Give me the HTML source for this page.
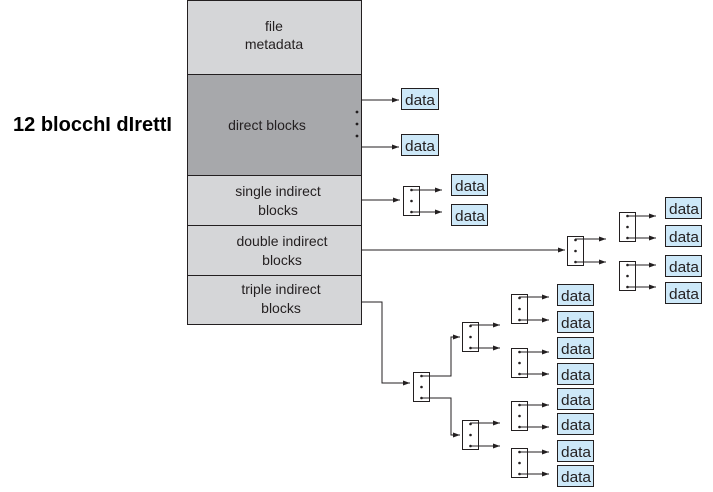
<!DOCTYPE html>
<html><head><meta charset="utf-8"><style>
html,body{margin:0;padding:0;background:#fff;width:713px;height:492px;overflow:hidden}
svg{display:block}
text{font-family:"Liberation Sans",sans-serif;fill:#231f20}
.d rect{fill:#cde8f8;stroke:#231f20;stroke-width:1}
.d text{font-size:15px}
.l{stroke:#231f20;stroke-width:1;fill:none}
.b{fill:#fff;stroke:#231f20;stroke-width:1}
</style></head><body>
<svg width="713" height="492" viewBox="0 0 713 492" xmlns="http://www.w3.org/2000/svg">
<defs>
<marker id="a" markerWidth="7" markerHeight="6" refX="7" refY="3" orient="auto" markerUnits="userSpaceOnUse"><path d="M0,0.5 L7,3 L0,5.5z" fill="#231f20"/></marker>
<g id="blk"><rect class="b" x="0" y="0" width="16" height="29"/><circle cx="8" cy="3.5" r="1.3" fill="#231f20"/><circle cx="8" cy="14.5" r="1.3" fill="#231f20"/><circle cx="8" cy="25.5" r="1.3" fill="#231f20"/></g>
</defs>
<text x="13" y="131" textLength="159" lengthAdjust="spacingAndGlyphs" style="font-size:20px;font-weight:bold;fill:#000">12 blocchI dIrettI</text>
<rect x="187.5" y="0.5" width="174" height="74" fill="#d5d6d8" stroke="#231f20"/>
<rect x="187.5" y="74.5" width="174" height="101" fill="#a7a8ab" stroke="#231f20"/>
<rect x="187.5" y="175.5" width="174" height="50" fill="#d5d6d8" stroke="#231f20"/>
<rect x="187.5" y="225.5" width="174" height="50" fill="#d5d6d8" stroke="#231f20"/>
<rect x="187.5" y="275.5" width="174" height="49" fill="#d5d6d8" stroke="#231f20"/>
<g style="font-size:14px" text-anchor="middle">
<text x="274" y="31">file</text><text x="274" y="49">metadata</text>
<text x="267" y="130">direct blocks</text>
<text x="278" y="196">single indirect</text><text x="278" y="215">blocks</text>
<text x="282" y="246">double indirect</text><text x="282" y="265">blocks</text>
<text x="281" y="294">triple indirect</text><text x="281" y="313">blocks</text>
</g>
<circle cx="357" cy="112" r="1.4" fill="#231f20"/><circle cx="357" cy="124" r="1.4" fill="#231f20"/><circle cx="357" cy="136" r="1.4" fill="#231f20"/>
<line class="l" x1="361" y1="100" x2="399" y2="100" marker-end="url(#a)"/>
<line class="l" x1="361" y1="147" x2="399" y2="147" marker-end="url(#a)"/>
<line class="l" x1="361" y1="200" x2="400" y2="200" marker-end="url(#a)"/>
<use href="#blk" x="403.5" y="186.5"/>
<line class="l" x1="411" y1="190" x2="442" y2="190" marker-end="url(#a)"/>
<line class="l" x1="411" y1="212" x2="442" y2="212" marker-end="url(#a)"/>
<line class="l" x1="361" y1="250" x2="565" y2="250" marker-end="url(#a)"/>
<use href="#blk" x="567.5" y="236.5"/>
<line class="l" x1="575" y1="239" x2="606" y2="239" marker-end="url(#a)"/>
<line class="l" x1="575" y1="262" x2="606" y2="262" marker-end="url(#a)"/>
<use href="#blk" x="619.5" y="212.5"/>
<use href="#blk" x="619.5" y="261.5"/>
<line class="l" x1="627" y1="216" x2="656" y2="216" marker-end="url(#a)"/>
<line class="l" x1="627" y1="238" x2="656" y2="238" marker-end="url(#a)"/>
<line class="l" x1="627" y1="265" x2="656" y2="265" marker-end="url(#a)"/>
<line class="l" x1="627" y1="287" x2="656" y2="287" marker-end="url(#a)"/>
<polyline class="l" points="361,302 382,302 382,383 410,383" marker-end="url(#a)"/>
<use href="#blk" x="413.5" y="372.5"/>
<polyline class="l" points="421,376 451,376 451,337 460,337" marker-end="url(#a)"/>
<polyline class="l" points="421,398 451,398 451,435 460,435" marker-end="url(#a)"/>
<use href="#blk" x="462.5" y="322.5"/>
<use href="#blk" x="462.5" y="420.5"/>
<line class="l" x1="470" y1="325" x2="500" y2="325" marker-end="url(#a)"/>
<line class="l" x1="470" y1="348" x2="500" y2="348" marker-end="url(#a)"/>
<line class="l" x1="470" y1="423" x2="500" y2="423" marker-end="url(#a)"/>
<line class="l" x1="470" y1="446" x2="500" y2="446" marker-end="url(#a)"/>
<use href="#blk" x="511.5" y="294.5"/>
<use href="#blk" x="511.5" y="348.5"/>
<use href="#blk" x="511.5" y="401.5"/>
<use href="#blk" x="511.5" y="448.5"/>
<line class="l" x1="519" y1="297" x2="549" y2="297" marker-end="url(#a)"/>
<line class="l" x1="519" y1="320" x2="549" y2="320" marker-end="url(#a)"/>
<line class="l" x1="519" y1="352" x2="549" y2="352" marker-end="url(#a)"/>
<line class="l" x1="519" y1="374" x2="549" y2="374" marker-end="url(#a)"/>
<line class="l" x1="519" y1="405" x2="549" y2="405" marker-end="url(#a)"/>
<line class="l" x1="519" y1="427" x2="549" y2="427" marker-end="url(#a)"/>
<line class="l" x1="519" y1="452" x2="549" y2="452" marker-end="url(#a)"/>
<line class="l" x1="519" y1="474" x2="549" y2="474" marker-end="url(#a)"/>
<g class="d">
<rect x="401.5" y="88.5" width="37" height="21"/><text x="405" y="105" textLength="30" lengthAdjust="spacingAndGlyphs">data</text>
<rect x="401.5" y="134.5" width="37" height="21"/><text x="405" y="151" textLength="30" lengthAdjust="spacingAndGlyphs">data</text>
<rect x="451.5" y="174.5" width="36" height="21"/><text x="455" y="191" textLength="30" lengthAdjust="spacingAndGlyphs">data</text>
<rect x="451.5" y="204.5" width="36" height="21"/><text x="455" y="221" textLength="30" lengthAdjust="spacingAndGlyphs">data</text>
<rect x="665.5" y="197.5" width="36" height="21"/><text x="669" y="214" textLength="30" lengthAdjust="spacingAndGlyphs">data</text>
<rect x="665.5" y="225.5" width="36" height="21"/><text x="669" y="242" textLength="30" lengthAdjust="spacingAndGlyphs">data</text>
<rect x="665.5" y="255.5" width="36" height="21"/><text x="669" y="272" textLength="30" lengthAdjust="spacingAndGlyphs">data</text>
<rect x="665.5" y="282.5" width="36" height="21"/><text x="669" y="299" textLength="30" lengthAdjust="spacingAndGlyphs">data</text>
<rect x="557.5" y="284.5" width="36" height="21"/><text x="561" y="301" textLength="30" lengthAdjust="spacingAndGlyphs">data</text>
<rect x="557.5" y="311.5" width="36" height="21"/><text x="561" y="328" textLength="30" lengthAdjust="spacingAndGlyphs">data</text>
<rect x="557.5" y="337.5" width="36" height="21"/><text x="561" y="354" textLength="30" lengthAdjust="spacingAndGlyphs">data</text>
<rect x="557.5" y="363.5" width="36" height="21"/><text x="561" y="380" textLength="30" lengthAdjust="spacingAndGlyphs">data</text>
<rect x="557.5" y="388.5" width="36" height="21"/><text x="561" y="405" textLength="30" lengthAdjust="spacingAndGlyphs">data</text>
<rect x="557.5" y="413.5" width="36" height="21"/><text x="561" y="430" textLength="30" lengthAdjust="spacingAndGlyphs">data</text>
<rect x="557.5" y="440.5" width="36" height="21"/><text x="561" y="457" textLength="30" lengthAdjust="spacingAndGlyphs">data</text>
<rect x="557.5" y="465.5" width="36" height="21"/><text x="561" y="482" textLength="30" lengthAdjust="spacingAndGlyphs">data</text>
</g>
</svg>
</body></html>
